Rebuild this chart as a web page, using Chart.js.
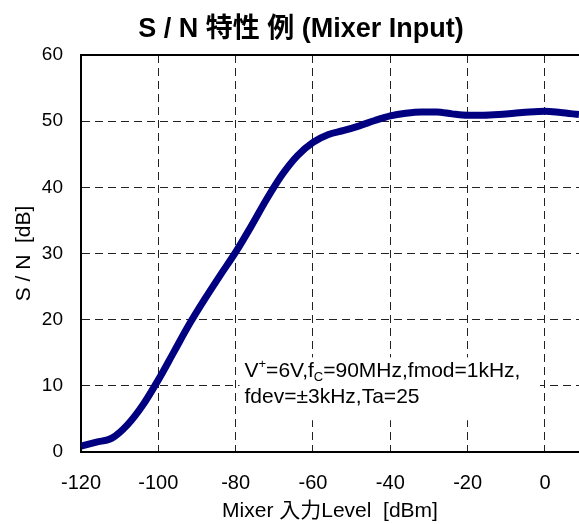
<!DOCTYPE html>
<html>
<head>
<meta charset="utf-8">
<script src="https://cdn.jsdelivr.net/npm/chart.js@4.4.0/dist/chart.umd.min.js"></script>
<style>
  html, body { margin: 0; padding: 0; background: #fff; }
  #wrap { width: 579px; height: 524px; position: relative; }
</style>
</head>
<body>
<div id="wrap"><canvas id="snChart"></canvas></div>
<script>
// data
const inputLevel = [-120, -116, -112, -108, -104, -100, -96, -92, -88, -84, -80, -76, -72, -68, -64, -60,
    -56, -52, -48, -44, -40, -36, -32, -28, -24, -20, -16, -12, -8, -4, 0, 4, 8.8];
const snValues = [0.9, 1.5, 2.1, 4.1, 7.1, 10.9, 15.1, 19.3, 23.1, 26.7, 30.2, 34.1, 38.2, 41.9, 44.8, 46.8,
    48.0, 48.6, 49.3, 50.1, 50.8, 51.2, 51.4, 51.4, 51.1, 50.9, 50.9, 51.0, 51.2, 51.4, 51.5, 51.3, 51.0];
const xTicks = [-120, -100, -80, -60, -40, -20, 0];
const yTicks = [0, 10, 20, 30, 40, 50, 60];
const titleText = "S / N 特性 例 (Mixer Input)";
const noteLine2 = "fdev=±3kHz,Ta=25";

const fontFam = "'Liberation Sans', Arial, 'Noto Sans CJK JP', sans-serif";

// title, top frame line and the condition note
const extrasPlugin = {
    id: "extras",
    beforeDatasetsDraw(chart) {
        const ctx = chart.ctx;
        const xs = chart.scales.x, ys = chart.scales.y;
        const bx = xs.getPixelForValue(-79), bx2 = xs.getPixelForValue(-1.3);
        const by = ys.getPixelForValue(14.3), by2 = ys.getPixelForValue(4.8);
        ctx.save();
        ctx.fillStyle = "#fff";
        ctx.fillRect(bx, by, bx2 - bx, by2 - by);
        ctx.fillStyle = "#000";
        ctx.textBaseline = "alphabetic";
        ctx.textAlign = "left";
        const big = "21px " + fontFam, small = "13px " + fontFam;
        let x = bx + 5;
        const base1 = by + 20, base2 = by + 46;
        const parts = [["V", big, 0], ["+", small, -9], ["=6V,f", big, 0], ["C", small, 4], ["=90MHz,fmod=1kHz,", big, 0]];
        parts.forEach(function (p) {
            ctx.font = p[1];
            ctx.fillText(p[0], x, base1 + p[2]);
            x += ctx.measureText(p[0]).width;
        });
        ctx.font = big;
        ctx.fillText(noteLine2, bx + 5, base2);
        ctx.restore();
    },
    afterDraw(chart) {
        const ctx = chart.ctx;
        const a = chart.chartArea;
        ctx.save();
        ctx.strokeStyle = "#000";
        ctx.lineWidth = 2;
        ctx.beginPath();
        ctx.moveTo(a.left - 1, a.top);
        ctx.lineTo(a.right, a.top);
        ctx.stroke();
        ctx.font = "bold 27px " + fontFam;
        ctx.fillStyle = "#000";
        ctx.textAlign = "center";
        ctx.textBaseline = "middle";
        ctx.fillText(titleText, 301, 30);
        ctx.restore();
    }
};

new Chart(document.getElementById("snChart"), {
    type: "line",
    data: {
        datasets: [{
            data: inputLevel.map(function (v, i) { return { x: v, y: snValues[i] }; }),
            borderColor: "#000080",
            borderWidth: 7,
            pointRadius: 0,
            cubicInterpolationMode: "monotone",
            fill: false
        }]
    },
    options: {
        responsive: true,
        maintainAspectRatio: false,
        animation: false,
        layout: { padding: { top: 55, right: 0, left: 0, bottom: 0 } },
        plugins: { legend: { display: false }, tooltip: { enabled: false } },
        scales: {
            x: {
                type: "linear",
                min: -120,
                max: 8.8,
                afterBuildTicks: function (s) { s.ticks = xTicks.map(function (v) { return { value: v }; }); },
                afterFit: function (s) { s.height = 72; },
                grid: { color: "#222", lineWidth: 1, drawTicks: false },
                border: { color: "#000", width: 2, dash: [8, 5] },
                ticks: { color: "#000", padding: 19, font: { family: fontFam, size: 20 } },
                title: {
                    display: true,
                    text: "Mixer 入力Level  [dBm]",
                    color: "#000",
                    font: { family: fontFam, size: 21 },
                    padding: { top: 0, bottom: 0 }
                }
            },
            y: {
                min: 0,
                max: 60,
                afterBuildTicks: function (s) { s.ticks = yTicks.map(function (v) { return { value: v }; }); },
                afterFit: function (s) { s.width = 81; },
                grid: { color: "#222", lineWidth: 1, drawTicks: false },
                border: { color: "#000", width: 2, dash: [8, 5] },
                ticks: { color: "#000", padding: 18, font: { family: fontFam, size: 19 } },
                title: {
                    display: true,
                    text: "S / N  [dB]",
                    color: "#000",
                    font: { family: fontFam, size: 21 },
                    padding: { top: 12, bottom: 0 }
                }
            }
        }
    },
    plugins: [extrasPlugin]
});
</script>
</body>
</html>
